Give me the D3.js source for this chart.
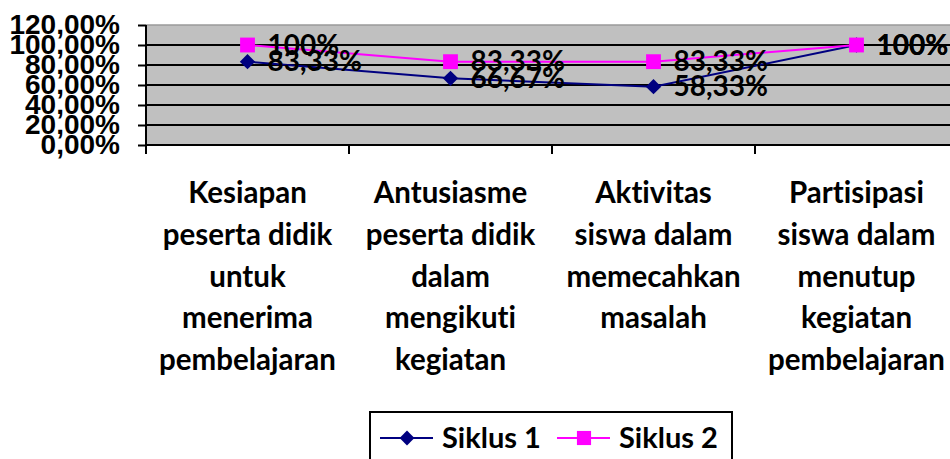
<!DOCTYPE html>
<html>
<head>
<meta charset="utf-8">
<script src="https://cdn.jsdelivr.net/npm/d3@7"></script>
<style>
    body { margin: 0; background: #fff; }
    svg { display: block; font-family: Lato, "Liberation Sans", sans-serif; font-weight: bold; font-variant-ligatures: none; }
    .axis path, .axis line { stroke: #000; stroke-width: 2px; }
    .axis text { fill: #000; }
</style>
</head>
<body>
<div id="chart"></div>
<script>

// Data.
var categories = [
    "Kesiapan\npeserta didik\nuntuk\nmenerima\npembelajaran",
    "Antusiasme\npeserta didik\ndalam\nmengikuti\nkegiatan",
    "Aktivitas\nsiswa dalam\nmemecahkan\nmasalah",
    "Partisipasi\nsiswa dalam\nmenutup\nkegiatan\npembelajaran"
];
var siklus1 = [83.33, 66.67, 58.33, 100];
var siklus2 = [100, 83.33, 83.33, 100];
var siklus1Labels = ["83,33%", "66,67%", "58,33%", "100%"];
var siklus2Labels = ["100%", "83,33%", "83,33%", "100%"];
var yTicks = [0, 20, 40, 60, 80, 100, 120];

var series = [
    {name: "Siklus 1", values: siklus1, labels: siklus1Labels, color: "#000080", symbol: d3.symbolDiamond2},
    {name: "Siklus 2", values: siklus2, labels: siklus2Labels, color: "#FF00FF", symbol: d3.symbolSquare}
];

var width = 950, height = 459;
var margin = {top: 25, left: 146};
var plotW = 812, plotH = 120;

var svg = d3.select("#chart")
    .append("svg")
        .attr("width", width)
        .attr("height", height);

// Scales
var x = d3.scaleBand().domain(categories).range([margin.left, margin.left + plotW]);
var y = d3.scaleLinear().domain([0, 120]).range([margin.top + plotH, margin.top]);

// Plot area background
svg.append("rect")
    .attr("x", margin.left).attr("y", margin.top)
    .attr("width", plotW).attr("height", plotH)
    .attr("fill", "#C0C0C0");
svg.append("line")
    .attr("x1", margin.left).attr("x2", margin.left + plotW)
    .attr("y1", margin.top).attr("y2", margin.top)
    .attr("stroke", "#9a9a9a").attr("stroke-width", 1.5);

// Gridlines
svg.append("g").selectAll("line")
    .data(yTicks.filter(d => d > 0 && d < 120))
    .join("line")
        .attr("x1", margin.left).attr("x2", margin.left + plotW)
        .attr("y1", d => y(d)).attr("y2", d => y(d))
        .attr("stroke", "#000").attr("stroke-width", 2);

// Y axis
var yAxis = d3.axisLeft(y)
    .tickValues(yTicks)
    .tickSize(8)
    .tickPadding(18)
    .tickFormat(d => d3.format(".2f")(d).replace(".", ",") + "%");
svg.append("g")
    .attr("class", "y axis")
    .attr("transform", "translate(" + margin.left + ",0)")
    .call(yAxis)
    .call(g => g.select(".domain").attr("d", "M0," + (margin.top + plotH + 1) + "V" + margin.top))
    .selectAll("text")
        .attr("font-size", 28)
        .attr("font-family", null);

// X axis: line plus ticks at the category boundaries
var xg = svg.append("g").attr("class", "x axis");
xg.append("line")
    .attr("x1", margin.left).attr("x2", margin.left + plotW)
    .attr("y1", y(0)).attr("y2", y(0))
    .attr("stroke", "#000").attr("stroke-width", 2);
xg.selectAll("line.tick")
    .data(categories)
    .join("line")
        .attr("class", "tick")
        .attr("x1", d => x(d)).attr("x2", d => x(d))
        .attr("y1", y(0)).attr("y2", y(0) + 9)
        .attr("stroke", "#000").attr("stroke-width", 2);

// Category labels
xg.selectAll("text.cat")
    .data(categories)
    .join("text")
        .attr("class", "cat")
        .attr("text-anchor", "middle")
        .attr("font-size", 29.5)
        .each(function(d) {
            let t = d3.select(this);
            d.split("\n").forEach(function(line, i) {
                t.append("tspan")
                    .attr("x", x(d) + x.bandwidth() / 2)
                    .attr("y", 193 + i * 41.6)
                    .attr("dy", "0.35em")
                    .text(line);
            });
        });

// Lines and markers
var line = d3.line()
    .x((d, i) => x(categories[i]) + x.bandwidth() / 2)
    .y(d => y(d));

series.forEach(function(s) {
    svg.append("path")
        .attr("d", line(s.values))
        .attr("fill", "none")
        .attr("stroke", s.color)
        .attr("stroke-width", 2);

    svg.append("g").selectAll("path")
        .data(s.values)
        .join("path")
            .attr("transform", (d, i) => "translate(" + (x(categories[i]) + x.bandwidth() / 2) + "," + y(d) + ")")
            .attr("d", d3.symbol().type(s.symbol).size(s.name === "Siklus 2" ? 220 : 150))
            .attr("fill", s.color);
});

// Data labels
series.forEach(function(s) {
    svg.append("g").selectAll("text")
        .data(s.values)
        .join("text")
            .attr("x", (d, i) => x(categories[i]) + x.bandwidth() / 2 + 20)
            .attr("y", d => y(d))
            .attr("dy", "0.35em")
            .attr("font-size", 28)
            .text((d, i) => s.labels[i]);
});

// Legend
var legend = svg.append("g");
legend.append("rect")
    .attr("x", 370).attr("y", 412)
    .attr("width", 362).attr("height", 60)
    .attr("fill", "#fff").attr("stroke", "#000").attr("stroke-width", 2);

var item = legend.selectAll("g.item")
    .data(series)
    .join("g")
        .attr("class", "item")
        .attr("transform", (d, i) => "translate(" + (380 + i * 177) + ",438)");
item.append("line")
    .attr("x1", 0).attr("x2", 53)
    .attr("stroke", d => d.color).attr("stroke-width", 2);
item.append("path")
    .attr("transform", "translate(27,0)")
    .attr("d", d => d3.symbol().type(d.symbol).size(d.name === "Siklus 2" ? 200 : 140)())
    .attr("fill", d => d.color);
item.append("text")
    .attr("x", 62)
    .attr("dy", "0.35em")
    .attr("font-size", 29)
    .text(d => d.name);

</script>
</body>
</html>
